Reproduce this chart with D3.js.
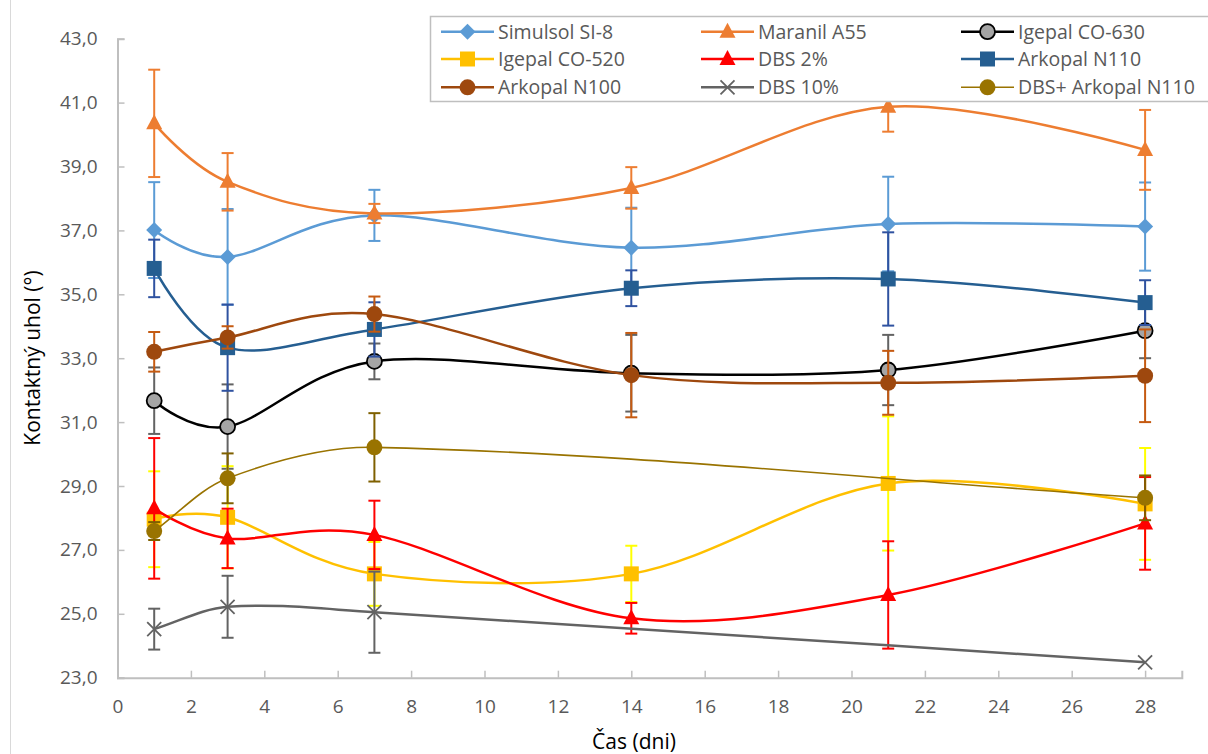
<!DOCTYPE html>
<html><head><meta charset="utf-8">
<script src="https://cdn.jsdelivr.net/npm/d3@7"></script>
<style>body{margin:0;background:#fff;overflow:hidden} svg{font-family:"Open Sans",Lato,sans-serif;display:block}</style>
</head><body>
<svg id="c" width="1208" height="754"></svg>
<script>
// ---------- data ----------
const daysFull  = [1, 3, 7, 14, 21, 28];
const daysShort = [1, 3, 7, 28];
const xTicks = [0,2,4,6,8,10,12,14,16,18,20,22,24,26,28];
const yTicks = [23,25,27,29,31,33,35,37,39,41,43];
const xTitle = "Čas (dni)";
const yTitle = "Kontaktný uhol (°)";

const seriesNames = ["Simulsol SI-8","Maranil A55","Igepal CO-630","Igepal CO-520","DBS 2%","Arkopal N110","Arkopal N100","DBS 10%","DBS+ Arkopal N110"];

const simulsolVals = [37.01, 36.17, 37.47, 36.46, 37.20, 37.12];
const simulsolErr  = [1.50, 1.50, 0.80, 1.25, 1.48, 1.38];
const maranilVals  = [40.35, 38.52, 37.53, 38.33, 40.87, 39.52];
const maranilErr   = [1.68, 0.90, 0.30, 0.65, 0.78, 1.25];
const igepal630Vals = [31.67, 30.86, 32.90, 32.53, 32.63, 33.86];
const igepal630Err  = [1.04, 1.32, 0.56, 1.20, 1.10, 0.86];
const igepal520Vals = [27.96, 28.02, 26.25, 26.25, 29.08, 28.44];
const igepal520Err  = [1.50, 1.60, 1.00, 0.88, 2.10, 1.75];
const dbs2Vals = [28.30, 27.36, 27.47, 24.86, 25.59, 27.83];
const dbs2Err  = [2.20, 0.93, 1.07, 0.48, 1.68, 1.45];
const arkopal110Vals = [35.81, 33.33, 33.90, 35.19, 35.48, 34.74];
const arkopal110Err  = [0.90, 1.35, 0.85, 0.56, 1.46, 0.70];
const arkopal100Vals = [33.20, 33.65, 34.38, 32.47, 32.23, 32.45];
const arkopal100Err  = [0.62, 0.35, 0.55, 1.32, 1.00, 1.45];
const dbs10Vals = [24.52, 25.22, 25.05, 23.48];
const dbs10Err  = [0.64, 0.97, 1.27, 0.00];
const dbsArkVals = [27.59, 29.24, 30.21, 28.63];
const dbsArkErr  = [0.28, 0.78, 1.07, 0.70];

const series = [
  {name:seriesNames[0], x:daysFull,  v:simulsolVals,  e:simulsolErr,  line:"#5B9BD5", err:"#5B9BD5", marker:"diamond", fill:"#5B9BD5", lw:2.5},
  {name:seriesNames[1], x:daysFull,  v:maranilVals,   e:maranilErr,   line:"#ED7D31", err:"#ED7D31", marker:"triangle", fill:"#ED7D31", lw:2.5},
  {name:seriesNames[2], x:daysFull,  v:igepal630Vals, e:igepal630Err, line:"#000000", err:"#636363", marker:"circleO", fill:"#A5A5A5", lw:2.5},
  {name:seriesNames[3], x:daysFull,  v:igepal520Vals, e:igepal520Err, line:"#FFC000", err:"#FFFF00", marker:"square", fill:"#FFC000", lw:2.5},
  {name:seriesNames[4], x:daysFull,  v:dbs2Vals,      e:dbs2Err,      line:"#FF0000", err:"#FF0000", marker:"triangle", fill:"#FF0000", lw:2.5},
  {name:seriesNames[5], x:daysFull,  v:arkopal110Vals,e:arkopal110Err,line:"#255E91", err:"#2F52A0", marker:"square", fill:"#255E91", lw:2.5},
  {name:seriesNames[6], x:daysFull,  v:arkopal100Vals,e:arkopal100Err,line:"#9E480E", err:"#C55A11", marker:"circle", fill:"#9E480E", lw:2.5},
  {name:seriesNames[7], x:daysShort, v:dbs10Vals,     e:dbs10Err,     line:"#636363", err:"#636363", marker:"x", fill:"#636363", lw:2.5, chord:true},
  {name:seriesNames[8], x:daysShort, v:dbsArkVals,    e:dbsArkErr,    line:"#997300", err:"#7F6000", marker:"circle", fill:"#997300", lw:1.6, chord:true}
];

// ---------- layout ----------
const svg = d3.select("#c");
const x = d3.scaleLinear().domain([0, 29]).range([117.5, 1181.8]);
const y = d3.scaleLinear().domain([23, 43]).range([677.7, 38.7]);

svg.append("line").attr("x1",10.5).attr("x2",10.5).attr("y1",0).attr("y2",754)
  .attr("stroke","#D9D9D9").attr("stroke-width",1);

const axisCol = "#BFBFBF";
const yAxis = svg.append("g").attr("transform",`translate(${x(0)},0)`)
  .call(d3.axisLeft(y).tickValues(yTicks).tickSize(-7).tickPadding(22)
        .tickFormat(d => d3.format(".1f")(d).replace(".", ",")));
const xAxis = svg.append("g").attr("transform",`translate(0,${y(23)})`)
  .call(d3.axisBottom(x).tickValues(xTicks).tickSize(-7).tickPadding(22));
[yAxis, xAxis].forEach(g => {
  g.select(".domain").attr("stroke", axisCol).attr("stroke-width", 2);
  g.selectAll(".tick line").attr("stroke", axisCol).attr("stroke-width", 1.5);
  g.selectAll(".tick text").attr("fill","#595959").style("font-size","19px").style("font-family","'Open Sans',Lato,sans-serif");
});
xAxis.selectAll(".tick text").attr("dy","0.35em").attr("y", 29);
yAxis.selectAll(".tick text").attr("x", -20);

svg.append("text").attr("x", 634).attr("y", 749).attr("text-anchor","middle")
  .style("font-size","21px").attr("fill","#000").text(xTitle);
svg.append("text").attr("transform","translate(40,358) rotate(-90)").attr("text-anchor","middle")
  .style("font-size","21px").attr("fill","#000").text(yTitle);

// ---------- marks ----------
function markerPath(type){
  switch(type){
    case "diamond": return "M0,-8L8,0L0,8L-8,0Z";
    case "triangle": return "M0,-9L8,6L-8,6Z";
    case "square": return "M-7.5,-7.5H7.5V7.5H-7.5Z";
    case "x": return "M-7,-7L7,7M-7,7L7,-7";
    default: return null;
  }
}
function drawMarker(g, s, cx, cy){
  if (s.marker === "circle" || s.marker === "circleO") {
    const c = g.append("circle").attr("cx",cx).attr("cy",cy).attr("r",8).attr("fill",s.fill);
    if (s.marker === "circleO") c.attr("stroke","#000").attr("stroke-width",1.8).attr("r",7.5);
  } else if (s.marker === "x") {
    g.append("path").attr("d",markerPath("x")).attr("transform",`translate(${cx},${cy})`)
      .attr("stroke",s.fill).attr("stroke-width",1.8).attr("fill","none");
  } else {
    g.append("path").attr("d",markerPath(s.marker)).attr("transform",`translate(${cx},${cy})`)
      .attr("fill",s.fill);
  }
}

const lineSmooth = d3.line().curve(d3.curveCardinal.tension(0)).x(d => x(d[0])).y(d => y(d[1]));

// chord-length Hermite smoothing (for series with very uneven spacing)
function chordSmooth(pts){
  const P = pts.map(p => [x(p[0]), y(p[1])]);
  const n = P.length;
  const dist = (a,b) => Math.hypot(b[0]-a[0], b[1]-a[1]);
  const d = []; for (let i=0;i<n-1;i++) d.push(dist(P[i],P[i+1]));
  const T = P.map((p,i) => {
    if (i===0) return [(P[1][0]-p[0])/d[0], (P[1][1]-p[1])/d[0]];
    if (i===n-1) return [(p[0]-P[i-1][0])/d[i-1], (p[1]-P[i-1][1])/d[i-1]];
    const s = d[i-1]+d[i];
    return [(P[i+1][0]-P[i-1][0])/s, (P[i+1][1]-P[i-1][1])/s];
  });
  const path = d3.path();
  path.moveTo(P[0][0], P[0][1]);
  for (let i=0;i<n-1;i++){
    const k = d[i]/3;
    path.bezierCurveTo(P[i][0]+T[i][0]*k, P[i][1]+T[i][1]*k,
                       P[i+1][0]-T[i+1][0]*k, P[i+1][1]-T[i+1][1]*k,
                       P[i+1][0], P[i+1][1]);
  }
  return path.toString();
}

series.forEach(s => {
  const g = svg.append("g");
  const pts = s.x.map((d,i) => [d, s.v[i], s.e[i]]);
  pts.forEach(p => {
    if (p[2] <= 0) return;
    const cx = x(p[0]), y1 = y(p[1]+p[2]), y2 = y(p[1]-p[2]);
    g.append("line").attr("x1",cx).attr("x2",cx).attr("y1",y1).attr("y2",y2)
      .attr("stroke",s.err).attr("stroke-width",2);
    [y1,y2].forEach(yy => g.append("line").attr("x1",cx-6).attr("x2",cx+6).attr("y1",yy).attr("y2",yy)
      .attr("stroke",s.err).attr("stroke-width",2));
  });
  g.append("path").datum(pts).attr("d", s.chord ? chordSmooth(pts) : lineSmooth(pts)).attr("fill","none")
    .attr("stroke", s.line).attr("stroke-width", s.lw);
  pts.forEach(p => drawMarker(g, s, x(p[0]), y(p[1])));
});

// ---------- legend ----------
const leg = svg.append("g");
leg.append("rect").attr("x",430.5).attr("y",16.5).attr("width",820).attr("height",85)
  .attr("fill","#fff").attr("stroke","#BFBFBF").attr("stroke-width",1.5);
const colX = [441, 701, 961];
const rowY = [31.7, 59, 87.3];
series.forEach((s,i) => {
  const cx0 = colX[i % 3], cy = rowY[Math.floor(i/3)];
  leg.append("line").attr("x1",cx0).attr("x2",cx0+53).attr("y1",cy).attr("y2",cy)
    .attr("stroke",s.line).attr("stroke-width",s.lw);
  drawMarker(leg, s, cx0+26.5, cy);
  leg.append("text").attr("x",cx0+57).attr("y",cy).attr("dy","0.35em")
    .style("font-size","19.5px").attr("fill","#595959").text(s.name);
});
</script>
</body></html>
